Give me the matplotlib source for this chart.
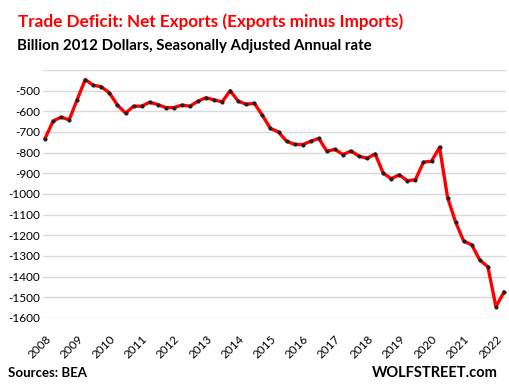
import matplotlib
matplotlib.use("Agg")
import matplotlib.pyplot as plt
import numpy as np

# Quarterly data, 2008 Q1 .. 2022 Q2 (billion 2012 dollars, SAAR)
net_exports = [
    -732, -647, -628, -641,   # 2008
    -543, -446, -474, -481,   # 2009
    -511, -570, -609, -575,   # 2010
    -575, -556, -567, -582,   # 2011
    -582, -570, -575, -551,   # 2012
    -534, -545, -554, -500,   # 2013
    -551, -566, -561, -620,   # 2014
    -683, -700, -745, -760,   # 2015
    -761, -745, -731, -793,   # 2016
    -784, -809, -792, -817,   # 2017
    -827, -806, -899, -926,   # 2018
    -907, -936, -931, -846,   # 2019
    -841, -774, -1018, -1137, # 2020
    -1228, -1246, -1320, -1352, # 2021
    -1545, -1475,             # 2022
]
year_labels = [str(y) for y in range(2008, 2023)]
y_ticks = [-1600, -1500, -1400, -1300, -1200, -1100, -1000, -900, -800, -700, -600, -500, -400]
y_tick_labels = ["-1600", "-1500", "-1400", "-1300", "-1200", "-1100", "-1000", "-900", "-800", "-700", "-600", "-500", ""]

title = "Trade Deficit: Net Exports (Exports minus Imports)"
subtitle = "Billion 2012 Dollars, Seasonally Adjusted Annual rate"
source = "Sources: BEA"
brand = "WOLFSTREET.com"

plt.rcParams['font.family'] = ['Lato', 'DejaVu Sans']

fig = plt.figure(figsize=(5.10, 3.92), dpi=100)
ax = fig.add_axes([43/510, 1 - 318/392, (506 - 43)/510, (318 - 70)/392])

x = np.arange(len(net_exports))
ax.plot(x, net_exports, color='#ff0000', lw=2.4, solid_joinstyle='round', zorder=3)
ax.plot(x, net_exports, ls='none', marker='o', ms=2.0, color='#222222', zorder=4)

ax.set_xlim(-0.25, len(net_exports) - 0.75)
ax.set_ylim(-1600, -400)
ax.set_yticks(y_ticks)
ax.set_yticklabels(y_tick_labels)
ax.yaxis.grid(True, color='#d9d9d9', lw=1.0)
ax.set_axisbelow(True)
for s in ax.spines.values():
    s.set_visible(False)
ax.tick_params(axis='both', length=0, labelsize=8.5, colors='#000000')
ax.tick_params(axis='y', pad=2)

ax.set_xticks(np.arange(0, len(net_exports), 4))
ax.set_xticklabels(year_labels, rotation=45, ha='right', va='top', rotation_mode='anchor')
ax.tick_params(axis='x', pad=11)

fig.text(18/510, 1 - 22/392, title, color='#ff0000', fontsize=12.3, fontweight='bold', va='center', ha='left')
fig.text(17/510, 1 - 46/392, subtitle, color='#000000', fontsize=10.8, fontweight='bold', va='center', ha='left')
fig.text(8/510, 1 - 373/392, source, color='#000000', fontsize=9.5, fontweight='bold', va='center', ha='left')
fig.text(498/510, 1 - 373/392, brand, color='#000000', fontsize=10.5, fontweight='bold', va='center', ha='right')

fig.savefig("out.png", dpi=100)
